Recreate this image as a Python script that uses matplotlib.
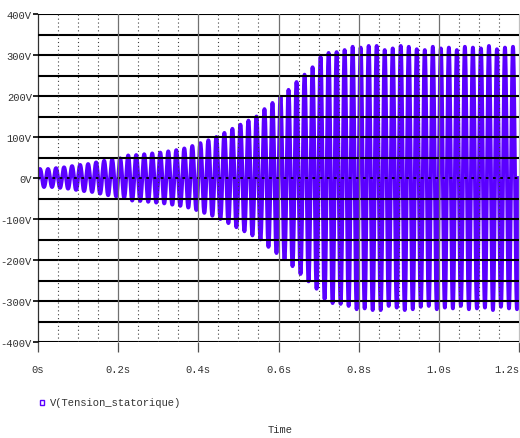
import numpy as np
import matplotlib
matplotlib.use("Agg")
import matplotlib.pyplot as plt

# ---- data ----
freq_hz = 50.0  # about 10 cycles per 0.2 s
# peak amplitude (V) of each successive cycle, 0 .. 1.2 s
cycle_peaks = [22, 22, 24, 26, 29, 32, 34, 38, 42, 45,
               48, 55, 56, 58, 60, 62, 65, 68, 72, 78,
               85, 92, 100, 110, 120, 130, 140, 150, 168, 183,
               198, 215, 234, 252, 270, 295, 305, 307, 312, 320,
               318, 322, 322, 312, 316, 322, 320, 314, 312, 320,
               316, 318, 312, 320, 318, 316, 322, 314, 318, 320]
x_ticks = [0.0, 0.2, 0.4, 0.6, 0.8, 1.0, 1.2]
x_tick_labels = ["0s", "0.2s", "0.4s", "0.6s", "0.8s", "1.0s", "1.2s"]
y_ticks = [-400, -300, -200, -100, 0, 100, 200, 300, 400]
y_tick_labels = ["-400V", "-300V", "-200V", "-100V", "0V", "100V", "200V", "300V", "400V"]
series_name = "V(Tension_statorique)"
x_title = "Time"

# ---- build waveform cycle by cycle ----
period = 1.0 / freq_hz
ts, vs = [], []
for k, a in enumerate(cycle_peaks):
    t = np.linspace(k * period, (k + 1) * period, 41)
    ts.append(t)
    vs.append(a * np.sin(2 * np.pi * freq_hz * t))
t_all = np.concatenate(ts)
v_all = np.concatenate(vs)

FONT = "Liberation Mono"
FS = 7.6
COL = "#5a00ff"
TXT = "#333333"

fig = plt.figure(figsize=(5.2, 4.39), dpi=100)
ax = fig.add_axes([38 / 520, 1 - 343 / 439, (519 - 38) / 520, (343 - 15) / 439])
ax.set_xlim(0, 1.2)
ax.set_ylim(-400, 400)

ax.plot(t_all, v_all, color=COL, lw=2.8, zorder=2)

# horizontal grid every 50 V (black, drawn over the trace)
for yv in np.arange(-400, 401, 50):
    if yv == 0:
        ax.axhline(yv, color="black", lw=1.3, ls=(0, (1.5, 2.5)), zorder=3)
    else:
        ax.axhline(yv, color="black", lw=1.5, zorder=3)
# vertical grid
for xv in np.arange(0.05, 1.2, 0.05):
    if abs(xv / 0.2 - round(xv / 0.2)) < 1e-6:
        ax.axvline(xv, color="#707070", lw=0.9, zorder=3)
    else:
        ax.axvline(xv, color="#404040", lw=0.8, ls=(0, (1, 2.5)), zorder=3)

for s in ["top", "bottom"]:
    ax.spines[s].set_visible(False)
ax.spines["left"].set_color("#303030")
ax.spines["left"].set_linewidth(0.9)
ax.spines["right"].set_color("#c0c0c0")
ax.spines["right"].set_linewidth(0.9)

ax.set_xticks(x_ticks)
ax.set_xticklabels(x_tick_labels, fontfamily=FONT, fontsize=FS, color=TXT)
ax.set_yticks(y_ticks)
ax.set_yticklabels(y_tick_labels, fontfamily=FONT, fontsize=FS, color=TXT)
ax.tick_params(axis="x", direction="out", length=7, width=0.9, color="#505050", pad=9)
ax.tick_params(axis="y", direction="out", length=3.5, width=1.2, color="black", pad=1)
# keep the last x label inside the picture
ax.get_xticklabels()[-1].set_horizontalalignment("right")

# legend entry
fig.patches.append(plt.Rectangle((40 / 520, 1 - 406 / 439), 4 / 520, 5 / 439,
                                 transform=fig.transFigure, fill=False,
                                 edgecolor=COL, lw=1.0))
fig.text(50 / 520, 1 - 403 / 439, series_name, fontfamily=FONT, fontsize=FS,
         color=TXT, va="center", ha="left")
fig.text(280 / 520, 1 - 430 / 439, x_title, fontfamily=FONT, fontsize=FS,
         color=TXT, va="center", ha="center")

fig.savefig("out.png", dpi=100)
